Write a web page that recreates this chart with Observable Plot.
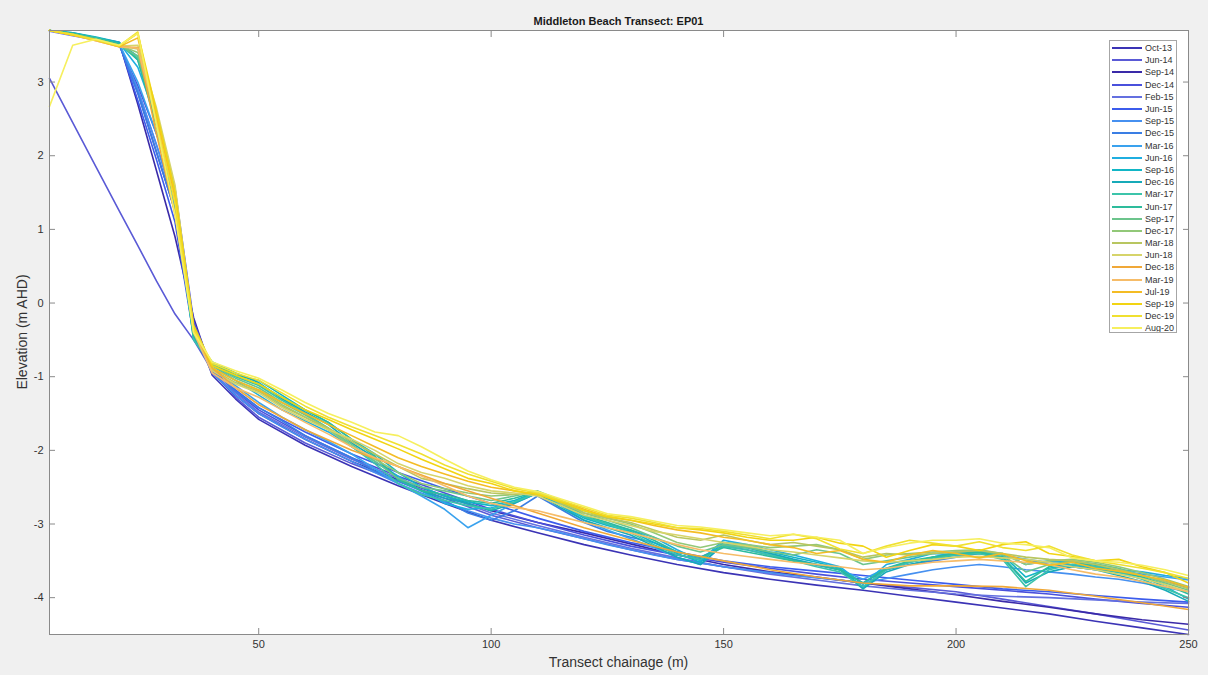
<!DOCTYPE html>
<html>
<head>
<meta charset="utf-8">
<script src="https://cdn.jsdelivr.net/npm/d3@7"></script>
<script src="https://cdn.jsdelivr.net/npm/@observablehq/plot@0.6"></script>
<style>
  html, body { margin: 0; padding: 0; background: #f0f0f0; }
  #wrap { position: relative; width: 1208px; height: 675px; overflow: hidden; font-family: "Liberation Sans", Arial, sans-serif; color: #262626; }
  #title { position: absolute; left: 49px; width: 1139px; top: 15px; text-align: center; font-size: 11px; font-weight: bold; color: #1a1a1a; }
  #xlabel { position: absolute; left: 49px; width: 1139px; top: 654px; text-align: center; font-size: 14px; color: #333; }
  #ylabel { position: absolute; left: 22px; top: 332px; transform: translate(-50%, -50%) rotate(-90deg); white-space: nowrap; font-size: 14px; color: #333; }
  #legend { position: absolute; left: 1109px; top: 40px; width: 68px; height: 293px; box-sizing: border-box; border: 1px solid #a6a6a6; background: #fff; padding-top: 1px; overflow: hidden; }
  .lg { height: 12.2px; display: flex; align-items: center; font-size: 9px; color: #333; white-space: nowrap; }
  .lg span.sw { display: inline-block; flex: none; width: 30px; height: 0; border-top: 2px solid; margin: 0 3px 0 2px; }
</style>
</head>
<body>
<div id="wrap">
  <div id="chart"></div>
  <div id="title">Middleton Beach Transect: EP01</div>
  <div id="xlabel">Transect chainage (m)</div>
  <div id="ylabel">Elevation (m AHD)</div>
  <div id="legend"></div>
</div>
<script>
// ---------- data ----------
const surveys = ["Oct-13","Jun-14","Sep-14","Dec-14","Feb-15","Jun-15","Sep-15","Dec-15","Mar-16","Jun-16","Sep-16","Dec-16","Mar-17","Jun-17","Sep-17","Dec-17","Mar-18","Jun-18","Dec-18","Mar-19","Jul-19","Sep-19","Dec-19","Aug-20"];

const xTicks = [50, 100, 150, 200, 250];
const yTicks = [-4, -3, -2, -1, 0, 1, 2, 3];

// chainage grids (m)
const chainageCoarse = [5,10,15,20,24,28,32,36,40,45,50,60,70,80,90,100,110,120,130,140,150,160,170,180,190,200,210,220,230,240,250];
const chainageFine = [5,10,15,20,24,28,32,36,40,45,50,55,60,65,70,75,80,85,90,95,100,105,110,115,120,125,130,135,140,145,150,155,160,165,170,175,180,185,190,195,200,205,210,215,220,225,230,235,240,245,250];

// coarse surveys (elevation m AHD)
const elevOct13 = [3.70,3.65,3.58,3.52,2.85,2.05,1.25,-0.30,-0.98,-1.30,-1.58,-1.93,-2.22,-2.48,-2.72,-2.95,-3.12,-3.28,-3.42,-3.55,-3.66,-3.75,-3.83,-3.90,-3.98,-4.06,-4.14,-4.22,-4.32,-4.41,-4.50];
const elevJun14 = [3.05,2.45,1.85,1.25,0.78,0.30,-0.15,-0.50,-0.92,-1.28,-1.55,-1.90,-2.18,-2.42,-2.65,-2.88,-3.05,-3.20,-3.35,-3.48,-3.58,-3.66,-3.73,-3.80,-3.86,-3.92,-4.02,-4.12,-4.22,-4.33,-4.44];
const elevSep14 = [3.70,3.66,3.60,3.54,2.70,1.80,0.90,-0.20,-0.95,-1.25,-1.50,-1.85,-2.15,-2.40,-2.62,-2.82,-2.98,-3.12,-3.27,-3.42,-3.55,-3.65,-3.72,-3.80,-3.88,-3.96,-4.05,-4.13,-4.22,-4.30,-4.36];
const elevDec14 = [3.70,3.64,3.58,3.50,2.95,2.30,1.55,-0.25,-0.90,-1.20,-1.45,-1.80,-2.10,-2.35,-2.58,-2.80,-2.98,-3.15,-3.30,-3.42,-3.52,-3.60,-3.68,-3.75,-3.80,-3.85,-3.90,-3.95,-4.02,-4.08,-4.13];
const elevFeb15 = [3.69,3.63,3.57,3.51,2.90,2.15,1.40,-0.40,-0.95,-1.22,-1.48,-1.82,-2.12,-2.38,-2.62,-2.85,-3.02,-3.18,-3.33,-3.46,-3.58,-3.68,-3.76,-3.84,-3.90,-3.95,-3.98,-4.00,-4.03,-4.06,-4.08];
const elevJun15 = [3.70,3.65,3.59,3.53,2.75,1.95,1.10,-0.45,-0.92,-1.18,-1.42,-1.75,-2.05,-2.30,-2.52,-2.72,-2.92,-3.10,-3.25,-3.38,-3.50,-3.58,-3.64,-3.70,-3.76,-3.82,-3.88,-3.92,-3.97,-4.02,-4.06];
const elevDec18 = [3.70,3.64,3.56,3.48,3.47,2.30,1.20,-0.35,-0.88,-1.15,-1.38,-1.72,-2.00,-2.22,-2.45,-2.65,-2.85,-3.05,-3.22,-3.38,-3.50,-3.62,-3.72,-3.80,-3.84,-3.84,-3.85,-3.90,-3.98,-4.07,-4.16];

// fine surveys (elevation m AHD)
const elevSep15 = [3.70,3.65,3.58,3.52,2.90,2.15,1.30,-0.40,-0.95,-1.25,-1.50,-1.68,-1.85,-2.00,-2.15,-2.30,-2.45,-2.58,-2.70,-2.82,-2.92,-3.00,-3.05,-3.12,-3.20,-3.28,-3.35,-3.42,-3.48,-3.53,-3.58,-3.62,-3.66,-3.70,-3.73,-3.76,-3.80,-3.74,-3.68,-3.62,-3.58,-3.55,-3.58,-3.62,-3.65,-3.68,-3.72,-3.75,-3.80,-3.86,-3.92];
const elevDec15 = [3.70,3.65,3.58,3.51,2.85,2.05,1.25,-0.45,-0.90,-1.20,-1.42,-1.60,-1.80,-1.95,-2.10,-2.28,-2.42,-2.55,-2.68,-2.85,-2.95,-2.82,-2.62,-2.80,-2.98,-3.10,-3.18,-3.25,-3.38,-3.45,-3.30,-3.35,-3.42,-3.50,-3.56,-3.62,-3.80,-3.62,-3.55,-3.50,-3.45,-3.40,-3.45,-3.48,-3.55,-3.58,-3.62,-3.65,-3.70,-3.78,-3.86];
const elevMar16 = [3.70,3.66,3.59,3.52,3.00,2.30,1.50,-0.35,-0.88,-1.12,-1.35,-1.55,-1.72,-1.88,-2.05,-2.25,-2.45,-2.62,-2.80,-3.05,-2.88,-2.72,-2.58,-2.75,-2.95,-3.08,-3.20,-3.32,-3.45,-3.55,-3.28,-3.32,-3.40,-3.48,-3.55,-3.62,-3.75,-3.60,-3.52,-3.45,-3.38,-3.36,-3.42,-3.48,-3.52,-3.56,-3.60,-3.64,-3.68,-3.72,-3.76];
const elevJun16 = [3.70,3.66,3.60,3.53,3.20,2.50,1.50,-0.40,-0.85,-1.05,-1.25,-1.45,-1.60,-1.75,-1.95,-2.15,-2.35,-2.55,-2.72,-2.80,-2.78,-2.70,-2.56,-2.72,-2.90,-3.00,-3.08,-3.18,-3.35,-3.50,-3.22,-3.28,-3.35,-3.42,-3.50,-3.58,-3.82,-3.55,-3.48,-3.40,-3.42,-3.38,-3.40,-3.55,-3.50,-3.52,-3.58,-3.62,-3.65,-3.70,-3.74];
const elevSep16 = [3.70,3.67,3.61,3.54,3.30,2.50,1.45,-0.50,-0.82,-0.98,-1.05,-1.25,-1.45,-1.62,-1.85,-2.05,-2.30,-2.50,-2.62,-2.70,-2.75,-2.68,-2.56,-2.75,-2.92,-3.02,-3.10,-3.25,-3.40,-3.52,-3.25,-3.30,-3.38,-3.45,-3.52,-3.60,-3.86,-3.62,-3.52,-3.45,-3.40,-3.38,-3.42,-3.72,-3.60,-3.55,-3.60,-3.66,-3.72,-3.85,-4.02];
const elevDec16 = [3.70,3.67,3.60,3.53,3.35,2.55,1.50,-0.45,-0.80,-0.95,-1.08,-1.30,-1.48,-1.65,-1.90,-2.10,-2.38,-2.55,-2.65,-2.72,-2.82,-2.72,-2.58,-2.78,-2.95,-3.05,-3.15,-3.30,-3.45,-3.55,-3.28,-3.32,-3.40,-3.48,-3.55,-3.62,-3.88,-3.65,-3.55,-3.48,-3.42,-3.40,-3.45,-3.80,-3.65,-3.58,-3.62,-3.70,-3.78,-3.90,-4.05];
const elevMar17 = [3.70,3.66,3.60,3.52,3.32,2.45,1.40,-0.50,-0.85,-1.00,-1.12,-1.32,-1.50,-1.70,-1.95,-2.18,-2.45,-2.60,-2.68,-2.75,-2.80,-2.70,-2.58,-2.72,-2.90,-3.00,-3.12,-3.28,-3.42,-3.48,-3.30,-3.35,-3.42,-3.50,-3.58,-3.65,-3.85,-3.62,-3.52,-3.46,-3.42,-3.40,-3.48,-3.85,-3.62,-3.55,-3.58,-3.65,-3.75,-3.88,-4.00];
const elevJun17 = [3.70,3.66,3.59,3.52,3.30,2.40,1.35,-0.45,-0.82,-0.98,-1.10,-1.28,-1.45,-1.62,-1.85,-2.08,-2.40,-2.55,-2.60,-2.68,-2.72,-2.65,-2.56,-2.70,-2.88,-2.98,-3.08,-3.22,-3.38,-3.45,-3.32,-3.38,-3.44,-3.50,-3.55,-3.62,-3.80,-3.60,-3.50,-3.45,-3.40,-3.38,-3.45,-3.78,-3.58,-3.52,-3.56,-3.62,-3.72,-3.82,-3.95];
const elevSep17 = [3.70,3.65,3.58,3.50,3.35,2.50,1.45,-0.40,-0.85,-1.02,-1.15,-1.35,-1.52,-1.70,-1.92,-2.15,-2.38,-2.50,-2.55,-2.62,-2.68,-2.62,-2.55,-2.68,-2.85,-2.95,-3.05,-3.18,-3.30,-3.38,-3.28,-3.32,-3.38,-3.42,-3.35,-3.40,-3.55,-3.50,-3.45,-3.40,-3.38,-3.36,-3.42,-3.65,-3.55,-3.50,-3.54,-3.60,-3.70,-3.80,-3.90];
const elevDec17 = [3.70,3.65,3.58,3.50,3.40,2.55,1.50,-0.40,-0.88,-1.05,-1.18,-1.38,-1.55,-1.72,-1.95,-2.12,-2.30,-2.45,-2.52,-2.58,-2.62,-2.60,-2.56,-2.70,-2.82,-2.92,-3.00,-3.12,-3.25,-3.32,-3.25,-3.28,-3.32,-3.30,-3.28,-3.35,-3.48,-3.42,-3.40,-3.38,-3.36,-3.35,-3.40,-3.55,-3.50,-3.48,-3.52,-3.58,-3.66,-3.75,-3.85];
const elevMar18 = [3.70,3.65,3.57,3.49,3.45,2.60,1.55,-0.35,-0.90,-1.08,-1.20,-1.40,-1.55,-1.70,-1.88,-2.05,-2.22,-2.38,-2.45,-2.52,-2.58,-2.60,-2.58,-2.72,-2.85,-2.92,-2.98,-3.08,-3.18,-3.22,-3.15,-3.22,-3.28,-3.25,-3.30,-3.35,-3.45,-3.40,-3.42,-3.40,-3.38,-3.36,-3.40,-3.45,-3.48,-3.50,-3.55,-3.62,-3.70,-3.78,-3.88];
const elevJun18 = [3.70,3.64,3.57,3.49,3.50,2.65,1.60,-0.35,-0.92,-1.10,-1.22,-1.42,-1.58,-1.72,-1.85,-2.00,-2.18,-2.30,-2.38,-2.48,-2.55,-2.58,-2.62,-2.75,-2.88,-2.95,-3.02,-3.10,-3.15,-3.20,-3.25,-3.30,-3.35,-3.38,-3.42,-3.46,-3.50,-3.52,-3.50,-3.48,-3.45,-3.44,-3.46,-3.48,-3.52,-3.58,-3.62,-3.68,-3.74,-3.82,-3.92];
const elevMar19 = [3.70,3.64,3.56,3.48,3.46,2.50,1.40,-0.40,-0.95,-1.15,-1.28,-1.45,-1.62,-1.78,-1.95,-2.10,-2.22,-2.35,-2.48,-2.62,-2.72,-2.78,-2.82,-2.90,-2.98,-3.05,-3.12,-3.20,-3.28,-3.35,-3.40,-3.44,-3.48,-3.52,-3.55,-3.58,-3.62,-3.60,-3.56,-3.52,-3.50,-3.48,-3.50,-3.52,-3.55,-3.62,-3.68,-3.72,-3.78,-3.85,-3.92];
const elevJul19 = [3.70,3.64,3.57,3.48,3.60,2.55,1.45,-0.35,-0.88,-1.05,-1.18,-1.35,-1.50,-1.65,-1.80,-1.95,-2.10,-2.22,-2.32,-2.42,-2.50,-2.55,-2.60,-2.68,-2.80,-2.90,-2.95,-3.02,-3.08,-3.12,-3.18,-3.22,-3.28,-3.32,-3.40,-3.36,-3.48,-3.52,-3.42,-3.36,-3.40,-3.46,-3.40,-3.50,-3.56,-3.52,-3.60,-3.64,-3.70,-3.76,-3.86];
const elevSep19 = [3.70,3.64,3.57,3.49,3.66,2.60,1.50,-0.30,-0.85,-0.98,-1.10,-1.28,-1.45,-1.58,-1.72,-1.85,-1.98,-2.12,-2.25,-2.38,-2.45,-2.55,-2.60,-2.70,-2.82,-2.90,-2.95,-3.00,-3.05,-3.08,-3.12,-3.18,-3.22,-3.22,-3.18,-3.26,-3.30,-3.45,-3.36,-3.28,-3.30,-3.36,-3.28,-3.24,-3.40,-3.44,-3.50,-3.48,-3.58,-3.66,-3.80];
const elevDec19 = [3.70,3.65,3.57,3.49,3.68,2.45,1.35,-0.35,-0.82,-0.95,-1.05,-1.22,-1.40,-1.55,-1.68,-1.80,-1.92,-2.05,-2.20,-2.32,-2.42,-2.52,-2.58,-2.68,-2.78,-2.88,-2.92,-2.98,-3.05,-3.06,-3.10,-3.15,-3.20,-3.14,-3.20,-3.34,-3.40,-3.30,-3.22,-3.26,-3.30,-3.24,-3.32,-3.36,-3.30,-3.42,-3.50,-3.55,-3.60,-3.66,-3.74];
const elevAug20 = [2.67,3.50,3.58,3.50,3.66,2.42,1.20,-0.40,-0.80,-0.92,-1.02,-1.18,-1.35,-1.50,-1.62,-1.75,-1.80,-1.95,-2.12,-2.28,-2.40,-2.50,-2.56,-2.66,-2.76,-2.86,-2.90,-2.96,-3.02,-3.04,-3.08,-3.12,-3.16,-3.14,-3.18,-3.22,-3.40,-3.32,-3.26,-3.22,-3.22,-3.20,-3.26,-3.28,-3.32,-3.46,-3.50,-3.52,-3.56,-3.62,-3.70];

const seriesElev = [elevOct13, elevJun14, elevSep14, elevDec14, elevFeb15, elevJun15, elevSep15, elevDec15, elevMar16, elevJun16, elevSep16, elevDec16, elevMar17, elevJun17, elevSep17, elevDec17, elevMar18, elevJun18, elevDec18, elevMar19, elevJul19, elevSep19, elevDec19, elevAug20];

// ---------- styles ----------
const palette = ["#3b33b5","#5a5ad6","#3a2aa8","#4a50dc","#6470e0","#3c5cec","#4690f0","#3a7ee4","#3aa2ee","#1faee0","#12b6c6","#17aab8","#3cc4aa","#2ebc9c","#6cc48c","#92c878","#b8c660","#d6d46a","#f0a838","#f6bc68","#f4bc24","#f2d412","#f0e030","#f6ef5e"];

// ---------- table ----------
const rows = surveys.flatMap((s, i) => {
  const ys = seriesElev[i];
  const xs = ys.length === chainageCoarse.length ? chainageCoarse : chainageFine;
  return ys.map((y, j) => ({survey: s, chainage: xs[j], elevation: y}));
});

const chart = Plot.plot({
  width: 1208,
  height: 675,
  marginLeft: 49,
  marginRight: 20,
  marginTop: 30,
  marginBottom: 41,
  style: {background: "transparent", fontFamily: "Liberation Sans, Arial, sans-serif", fontSize: "11px", color: "#333"},
  x: {domain: d3.extent(rows, d => d.chainage)},
  y: {domain: d3.extent(rows, d => d.elevation)},
  color: {domain: surveys, range: palette},
  marks: [
    Plot.frame({fill: "white", stroke: "none"}),
    Plot.line(rows, {x: "chainage", y: "elevation", z: "survey", stroke: "survey", strokeWidth: 1.6}),
    Plot.frame({stroke: "#8a8a8a"}),
    Plot.axisX({ticks: xTicks, anchor: "bottom", tickSize: 6, dy: -6, fill: "none", stroke: "#8a8a8a", label: null}),
    Plot.axisX({ticks: xTicks, anchor: "top", tickSize: 6, dy: 6, fill: "none", stroke: "#8a8a8a", label: null}),
    Plot.axisX({ticks: xTicks, anchor: "bottom", tickSize: 0, tickPadding: 6, label: null, tickFormat: d => String(d), fill: "#333"}),
    Plot.axisY({ticks: yTicks, anchor: "left", tickSize: 6, dx: 6, fill: "none", stroke: "#8a8a8a", label: null}),
    Plot.axisY({ticks: yTicks, anchor: "right", tickSize: 6, dx: -6, fill: "none", stroke: "#8a8a8a", label: null}),
    Plot.axisY({ticks: yTicks, anchor: "left", tickSize: 0, tickPadding: 6, label: null, tickFormat: d => String(d), fill: "#333"})
  ]
});
document.getElementById("chart").appendChild(chart);

// legend
const lg = document.getElementById("legend");
surveys.forEach((s, i) => {
  const row = document.createElement("div");
  row.className = "lg";
  const sw = document.createElement("span");
  sw.className = "sw";
  sw.style.borderTopColor = palette[i];
  const t = document.createElement("span");
  t.textContent = s;
  row.appendChild(sw);
  row.appendChild(t);
  lg.appendChild(row);
});
</script>
</body>
</html>
